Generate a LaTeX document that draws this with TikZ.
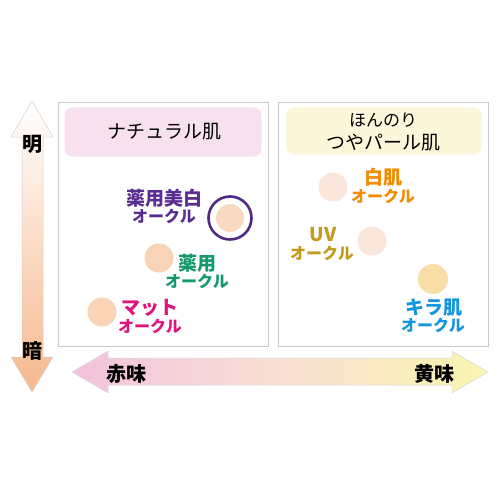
\documentclass[tikz,border=0pt]{standalone}
\usepackage{fontspec}
\setmainfont{Noto Sans CJK JP}
\usetikzlibrary{shadings}
\definecolor{peach}{HTML}{F8D3B5}
\definecolor{peachlight}{HTML}{FBE6DC}
\definecolor{kiradot}{HTML}{F9DDA6}
\definecolor{ringpurple}{HTML}{4E2A84}
\definecolor{lblpurple}{HTML}{5A2D91}
\definecolor{lblgreen}{HTML}{14996E}
\definecolor{lblmagenta}{HTML}{E2147B}
\definecolor{lblorange}{HTML}{F28C00}
\definecolor{lblgold}{HTML}{C49A1C}
\definecolor{lblblue}{HTML}{1496DC}
\definecolor{panelline}{HTML}{C9C9C9}
\definecolor{pinktitle}{HTML}{F8E1EE}
\definecolor{yellowtitle}{HTML}{FCF7DA}
\definecolor{arroworange}{HTML}{F6B88C}
\definecolor{arrowpink}{HTML}{F2C2DC}
\definecolor{arrowyellow}{HTML}{F9F5B0}
\definecolor{arrowmid}{HTML}{F9E0D4}
\tikzset{
  panel/.style={draw=panelline, line width=0.8pt, fill=white, minimum width=210pt, minimum height=244pt, anchor=north west, inner sep=0pt},
  titlebox/.style={rounded corners=8pt, inner sep=0pt},
  dot/.style={circle, minimum size=29pt, inner sep=0pt},
  lblbig/.style={font=\fontsize{19}{20}\selectfont\bfseries, inner sep=0pt},
  lblsmall/.style={font=\fontsize{16}{17}\selectfont\bfseries, inner sep=0pt},
  axislbl/.style={font=\fontsize{20}{21}\selectfont\bfseries, inner sep=0pt},
  titletxt/.style={font=\fontsize{19}{20}\selectfont, inner sep=0pt},
}
\begin{document}
\begin{tikzpicture}[x=1pt,y=-1pt]
\useasboundingbox (0,0) rectangle (500,500);
% vertical arrow
\shade[top color=white, bottom color=arroworange, draw=gray!35, line width=0.5pt]
  (32,101) -- (53,137) -- (43,137) -- (43,357) -- (53,357) -- (32,392) -- (11,357) -- (22,357) -- (22,137) -- (11,137) -- cycle;
\node[axislbl] (bright) at (32,144) {明};
\node[axislbl] (dark) at (32,351) {暗};
% horizontal arrow
\shade[left color=arrowpink, right color=arrowyellow, middle color=arrowmid, draw=gray!30, line width=0.5pt]
  (72,372) -- (108,351) -- (108,358) -- (452,358) -- (452,351) -- (488,372) -- (452,393) -- (452,385) -- (108,385) -- (108,393) -- cycle;
\node[axislbl] (red) at (126,374) {赤味};
\node[axislbl] (yellow) at (434,374) {黄味};
% panels
\node[panel] (lpanel) at (58,102) {};
\node[panel] (rpanel) at (278,102) {};
% title boxes
\node[titlebox, fill=pinktitle, minimum width=197pt, minimum height=49pt] (ltitle) at (163,132) {};
\node[titletxt] (ltitletxt) at (164,132) {ナチュラル肌};
\node[titlebox, fill=yellowtitle, minimum width=196pt, minimum height=47pt] (rtitle) at (384,131) {};
\node[font=\fontsize{17}{18}\selectfont, inner sep=0pt] (rtitle1) at (383,120) {ほんのり};
\node[titletxt] (rtitle2) at (383,143) {つやパール肌};
% left dots
\node[dot, fill=peach!85, minimum size=28pt] (d1) at (230,218) {};
\draw[ringpurple, line width=2.6pt] (d1.center) circle (21.5pt);
\node[dot, fill=peach] (d2) at (159,258) {};
\node[dot, fill=peach] (d3) at (102,312) {};
\node[lblbig, text=lblpurple] (t1a) at (164,198) {薬用美白};
\node[lblsmall, text=lblpurple] (t1b) at (164,216) {オークル};
\node[lblbig, text=lblgreen] (t2a) at (197,263) {薬用};
\node[lblsmall, text=lblgreen] (t2b) at (197,281) {オークル};
\node[lblbig, text=lblmagenta] (t3a) at (150,308) {マット};
\node[lblsmall, text=lblmagenta] (t3b) at (150,326) {オークル};
% right dots
\node[dot, fill=peachlight] (d4) at (333,187) {};
\node[dot, fill=peachlight] (d5) at (372,241) {};
\node[dot, fill=kiradot, minimum size=30pt] (d6) at (433,279) {};
\node[lblbig, text=lblorange] (t4a) at (383,177) {白肌};
\node[lblsmall, text=lblorange] (t4b) at (383,196) {オークル};
\node[lblbig, text=lblgold] (t5a) at (323,235) {UV};
\node[lblsmall, text=lblgold] (t5b) at (322,253) {オークル};
\node[lblbig, text=lblblue] (t6a) at (434,308) {キラ肌};
\node[lblsmall, text=lblblue] (t6b) at (433,325) {オークル};
\end{tikzpicture}
\end{document}
